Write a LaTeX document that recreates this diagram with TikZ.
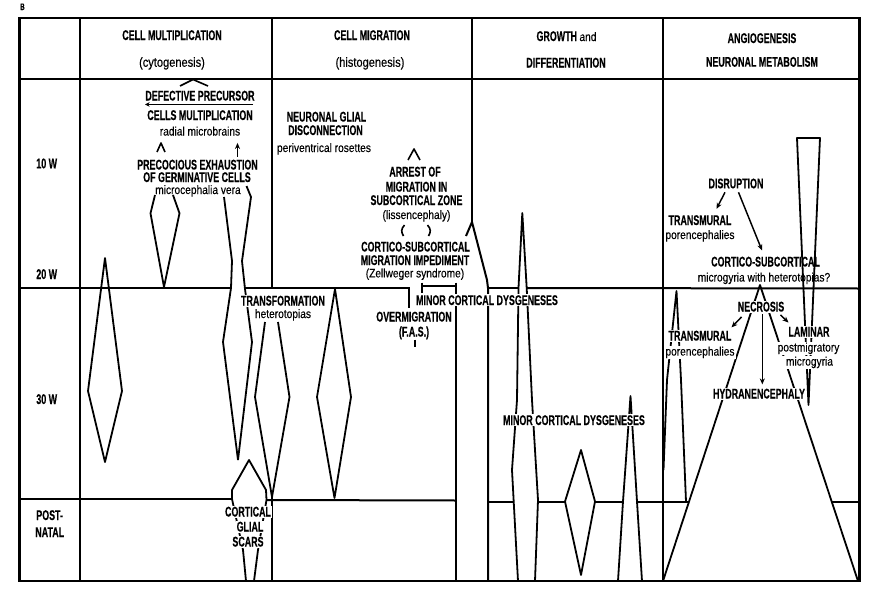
\documentclass[tikz,border=0pt]{standalone}
\usepackage{fontspec}
\setmainfont{Liberation Sans}
\newfontfamily\capf[FakeStretch=0.635,FakeBold=0.35]{Liberation Sans}
\newfontfamily\lowf[FakeStretch=0.83,FakeBold=0.2]{Liberation Sans}
\usetikzlibrary{arrows.meta,calc}
\tikzset{
  bord/.style={line width=2.2pt},
  gridln/.style={line width=1.5pt},
  colb/.style={line width=2pt},
  shp/.style={line width=1.35pt, line join=round},
  deco/.style={line width=1.2pt, line join=round},
  capt/.style={font=\capf\bfseries\fontsize{10.5}{12}\selectfont, anchor=base, inner sep=0.8pt},
  lowt/.style={font=\lowf\fontsize{9.2}{11}\selectfont, anchor=base, inner sep=0.8pt},
  lowh/.style={font=\lowf\fontsize{10}{12}\selectfont, anchor=base, inner sep=0.8pt},
  labt/.style={capt, anchor=base west},
  wf/.style={fill=white},
  arr/.style={line width=1.1pt, -{Stealth[length=4.5pt,width=3.8pt]}},
}
\begin{document}
\begin{tikzpicture}[x=0.75pt,y=-0.75pt]
\useasboundingbox (0,0) rectangle (890,600);
\fill[white] (0,0) rectangle (890,600);

% ---------- grid ----------
\draw[bord] (19.5,18) rectangle (859.5,581);
\draw[gridln] (19.5,79) -- (859.5,79);
\draw[gridln] (80,18) -- (80,581);
\draw[gridln] (272,18) -- (272,288);
\draw[gridln] (272,497) -- (272,581);
\draw[colb] (472,18) -- (472,222);
\draw[colb] (663,18) -- (663,581);
% 20 W line
\draw[gridln] (19.5,288) -- (231,288);
\draw[gridln] (245,288) -- (408.5,288) -- (408.5,308);
\draw[gridln] (422,282.5) -- (422,293);
\draw[gridln] (422,286) -- (456,286);
\draw[gridln] (456,282.5) -- (456,581);
\draw[gridln] (466,236) -- (472,222) -- (487,280) -- (488,288) -- (488,581);
\draw[gridln] (488,288) -- (518.5,288);
\draw[gridln] (526.7,288) -- (859.5,288.5);
% post-natal line
\draw[gridln] (19.5,499) -- (232,499);
\draw[gridln] (266.5,500) -- (456,500.5);
\draw[gridln] (488,501.5) -- (513.7,501.5);
\draw[gridln] (538,501.5) -- (565,501.5);
\draw[gridln] (595,501.5) -- (623,501.5);
\draw[gridln] (637,501.5) -- (689,501.5);
\draw[gridln] (831.6,501.5) -- (859.5,501.5);

% ---------- shapes ----------
% column 1
\draw[shp] (155,195) -- (150.5,213.3) -- (164,287) -- (179.5,213.3) -- (173,195);
\draw[shp] (105,258) -- (122,391) -- (105,462) -- (88,391) -- cycle;
\draw[shp] (224,197) -- (232,261) -- (231,288) -- (223,342) -- (238,460);
\draw[shp] (246.5,186) -- (251,197) -- (242,261) -- (245,289) -- (252,342) -- (238,460);
\draw[shp] (265,322) -- (255,397) -- (272,497) -- (289.5,397) -- (278,322);
\draw[shp] (232,499) -- (232,490) -- (249,460) -- (266,490) -- (266.5,500);
\draw[shp] (232,499) -- (243,550) -- (246,581);
\draw[shp] (266.5,500) -- (258,550) -- (254,581);
% column 2
\draw[shp] (335,289) -- (351,397) -- (334.5,498) -- (317,397) -- cycle;
% column 3
\draw[shp] (518.5,288) -- (522.3,213) -- (526.7,288);
\draw[shp] (518.5,288) -- (517,400) -- (512,470) -- (518,581);
\draw[shp] (526.7,288) -- (532,400) -- (538,500) -- (535,581);
\draw[shp] (581,450) -- (595,501.5) -- (581,575) -- (565,501.5) -- cycle;
\draw[shp] (618,581) -- (623,501.5) -- (630.5,396) -- (637,501.5) -- (642,581);
% column 4
\draw[shp] (797,138) -- (820,138) -- (808.5,405) -- cycle;
\draw[shp] (663,581) -- (760,285) -- (858,581);
\draw[shp] (663.5,470) -- (667,380) -- (676.5,291) -- (681,380) -- (686,501.5);

% ---------- texts ----------
\node[font=\capf\bfseries\fontsize{7}{8}\selectfont, anchor=base, inner sep=0pt] (lb) at (22.5,10) {B};
% headers
\node[capt] (h1a) at (172,40) {CELL MULTIPLICATION};
\node[lowh] (h1b) at (172,66.8) {(cytogenesis)};
\node[capt] (h2a) at (372,40) {CELL MIGRATION};
\node[lowh] (h2b) at (370,66.8) {(histogenesis)};
\node[capt] (h3a) at (566.5,41) {GROWTH {\lowf\mdseries\fontsize{9.2}{11}\selectfont and}};
\node[capt] (h3b) at (566,67.5) {DIFFERENTIATION};
\node[capt] (h4a) at (762,43) {ANGIOGENESIS};
\node[capt] (h4b) at (762,66.7) {NEURONAL METABOLISM};
% row labels
\node[labt] (r10) at (35,168.3) {10 W};
\node[labt] (r20) at (35,279) {20 W};
\node[labt] (r30) at (35,404) {30 W};
\node[labt] (rpa) at (35,520) {POST-};
\node[labt] (rpb) at (34,537) {NATAL};
% column 1
\node[capt] (def) at (200,100.5) {DEFECTIVE PRECURSOR};
\node[capt] (cel) at (200,120) {CELLS MULTIPLICATION};
\node[lowt] (rad) at (200,135.5) {radial microbrains};
\node[capt] (pre1) at (197.5,169.5) {PRECOCIOUS EXHAUSTION};
\node[capt] (pre2) at (197,182) {OF GERMINATIVE CELLS};
\node[lowt] (pre3) at (198,194) {microcephalia vera};
\node[capt,wf] (trf1) at (283,305.5) {TRANSFORMATION};
\node[lowt] (trf2) at (283,318) {heterotopias};
\node[capt,wf] (sc1) at (248,516.5) {CORTICAL};
\node[capt,wf] (sc2) at (250,531.5) {GLIAL};
\node[capt,wf] (sc3) at (248,546.5) {SCARS};
% column 2
\node[capt] (ng1) at (326.5,121.5) {NEURONAL GLIAL};
\node[capt] (ng2) at (325.5,135) {DISCONNECTION};
\node[lowt] (ng3) at (324,152) {periventrical rosettes};
\node[capt] (ar1) at (415,176.5) {ARREST OF};
\node[capt] (ar2) at (416.5,191.5) {MIGRATION IN};
\node[capt] (ar3) at (416.5,205) {SUBCORTICAL ZONE};
\node[lowt] (ar4) at (416.5,219) {(lissencephaly)};
\node[capt] (cs1) at (415.5,251.5) {CORTICO-SUBCORTICAL};
\node[capt] (cs2) at (415,265) {MIGRATION IMPEDIMENT};
\node[lowt] (cs3) at (415,277.4) {(Zellweger syndrome)};
\node[capt,wf] (mcd1) at (487,305) {MINOR CORTICAL DYSGENESES};
\node[capt] (ov1) at (414,321.5) {OVERMIGRATION};
\node[capt] (ov2) at (414,336.5) {(F.A.S.)};
% column 3
\node[capt,wf] (mcd2) at (574,425) {MINOR CORTICAL DYSGENESES};
% column 4
\node[capt] (disr) at (736,188.3) {DISRUPTION};
\node[capt] (trA) at (700,225) {TRANSMURAL};
\node[lowt] (poA) at (700,239) {porencephalies};
\node[capt] (corA) at (765.5,266.5) {CORTICO-SUBCORTICAL};
\node[lowt] (micA) at (764,281.5) {microgyria with heterotopias?};
\node[capt,wf] (necr) at (761,311.5) {NECROSIS};
\node[capt,wf] (trB) at (700,340.5) {TRANSMURAL};
\node[lowt,wf] (poB) at (700,355.6) {porencephalies};
\node[capt,wf,inner xsep=3pt] (lam) at (809,336.5) {LAMINAR};
\node[lowt,wf,inner xsep=3pt] (pmg) at (808.5,351.5) {postmigratory};
\node[lowt,wf,inner xsep=3pt] (mgy) at (809.5,365.6) {microgyria};
\node[capt,wf] (hydr) at (759,398.5) {HYDRANENCEPHALY};

% ---------- arrows and marks ----------
\draw[deco] (180,86) .. controls (186,82) .. (193,79.5) .. controls (200,82) .. (208,86);
\draw[line width=1.1pt, -{Stealth[length=3.5pt,width=3.5pt]}] ($(def.south)+(53,2.5)$) -- ($(def.south)+(-55,2.5)$);
\draw[deco] (157,152) -- (161,143) -- (165,152);
\draw[arr] ($(pre1.north)+(40,-1.5)$) -- ($(rad.south)+(37.5,6)$);
\draw[deco] (408,160) -- (414,149) -- (420,160);
\draw[deco] (404.5,225) .. controls (401,229) and (401,232) .. (403.5,236);
\draw[deco] (427.5,225) .. controls (431,229) and (431,232) .. (428.5,236);
\draw[gridln] (415,339.5) -- (415,347);
\draw[arr] ($(disr.south)+(-11,2.5)$) -- ($(trA.north)+(16.5,-5)$);
\draw[arr] ($(disr.south)+(2.5,2.5)$) -- ($(corA.north)+(-3.5,-5)$);
\draw[arr] ($(necr.south)+(-19.5,4)$) -- ($(trB.north)+(31.5,-2)$);
\draw[arr] ($(necr.south)+(1.3,1.5)$) -- ($(hydr.north)+(3.3,-3)$);
\draw[arr] ($(necr.south)+(19.5,2)$) -- ($(lam.north)+(-20.5,-3)$);
\end{tikzpicture}
\end{document}
